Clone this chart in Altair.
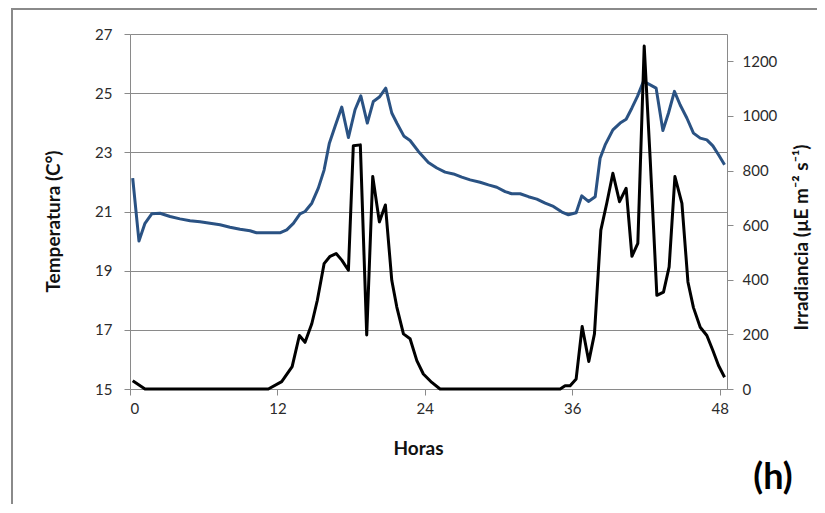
import altair as alt
import pandas as pd

# Temperature series (blue) - hours and °C
temp_hours = [0.22, 0.73, 1.22, 1.77, 2.44, 3.26, 4.07, 4.89, 5.70, 6.51, 7.33, 8.14, 8.96, 9.77,
              10.3, 11.0, 11.5, 12.2, 12.76, 13.3, 13.84, 14.25, 14.8, 15.33, 15.8, 16.23, 16.69,
              17.24, 17.78, 18.32, 18.79, 19.32, 19.81, 20.3, 20.82, 21.31, 21.72, 22.31, 22.8,
              23.48, 24.29, 24.98, 25.65, 26.33, 27.01, 27.69, 28.5, 29.18, 29.86, 30.54, 31.08,
              31.76, 32.44, 33.12, 33.8, 34.47, 35.16, 35.69, 36.32, 36.78, 37.32, 37.87, 38.27,
              38.68, 39.31, 39.9, 40.39, 40.86, 41.31, 41.8, 42.35, 42.83, 43.38, 43.84, 44.32,
              44.79, 45.33, 45.87, 46.42, 46.96, 47.45, 47.91, 48.4]
temp_values = [22.13, 20.0, 20.6, 20.92, 20.94, 20.83, 20.75, 20.69, 20.65, 20.6, 20.55, 20.47,
               20.4, 20.35, 20.28, 20.28, 20.28, 20.28, 20.38, 20.6, 20.92, 21.0, 21.28, 21.79,
               22.4, 23.31, 23.87, 24.53, 23.5, 24.44, 24.91, 23.99, 24.72, 24.87, 25.17, 24.33,
               23.99, 23.54, 23.4, 23.03, 22.66, 22.47, 22.33, 22.27, 22.16, 22.07, 21.99, 21.9,
               21.82, 21.67, 21.6, 21.6, 21.5, 21.42, 21.28, 21.17, 20.98, 20.89, 20.96, 21.53,
               21.34, 21.5, 22.8, 23.25, 23.76, 23.99, 24.12, 24.5, 24.89, 25.4, 25.28, 25.17,
               23.74, 24.33, 25.06, 24.6, 24.16, 23.65, 23.48, 23.42, 23.22, 22.92, 22.58]

# Irradiance series (black) - hours and µE m-2 s-1
irr_hours = [0.22, 1.22, 5.0, 11.26, 12.35, 13.2, 13.79, 14.25, 14.8, 15.25, 15.8, 16.29, 16.78,
             17.24, 17.78, 18.18, 18.75, 19.27, 19.76, 20.3, 20.79, 21.31, 21.72, 22.26, 22.8,
             23.35, 23.88, 24.57, 25.24, 30.0, 35.02, 35.42, 35.83, 36.32, 36.81, 37.35, 37.81,
             38.33, 38.82, 39.31, 39.85, 40.39, 40.86, 41.34, 41.86, 42.35, 42.89, 43.43, 43.89,
             44.36, 44.93, 45.42, 45.87, 46.42, 46.96, 47.45, 47.91, 48.4]
irr_values = [30, 0, 0, 0, 27, 82, 196, 171, 239, 325, 459, 486, 496, 472, 435, 891, 894, 198,
              778, 612, 674, 398, 300, 202, 184, 104, 55, 24, 0, 0, 0, 12, 12, 37, 229, 101, 202,
              582, 682, 790, 686, 735, 486, 533, 1256, 839, 343, 355, 447, 778, 680, 392, 298,
              226, 196, 141, 86, 43]

x_ticks = [0, 12, 24, 36, 48]
temp_ticks = [15, 17, 19, 21, 23, 25, 27]
irr_ticks = [0, 200, 400, 600, 800, 1000, 1200]

W, H = 597, 355
FONT = "Lato"
GRAY = "#8a8a8a"
LBL = "#2b2b2b"
TSIZE = 19

df_t = pd.DataFrame({"h": temp_hours, "t": temp_values})
df_i = pd.DataFrame({"h": irr_hours, "i": irr_values})
one = pd.DataFrame({"a": [0]})

x_axis = alt.Axis(values=x_ticks, title="Horas", grid=False, labelFont=FONT, labelFontSize=15,
                  labelColor=LBL, labelPadding=6, tickSize=6, tickColor=GRAY, domainColor=GRAY,
                  titleFont=FONT, titleFontSize=TSIZE, titleFontWeight="bold", titleColor="#111",
                  titleX=288, titleY=59, titleBaseline="middle", titleAlign="center")
x_scale = alt.Scale(domain=[0, 48.6], nice=False, zero=False)

temp = alt.Chart(df_t).mark_line(color="#2A5283", strokeWidth=3, strokeJoin="round").encode(
    x=alt.X("h:Q", scale=x_scale, axis=x_axis),
    y=alt.Y("t:Q", scale=alt.Scale(domain=[15, 27], nice=False, zero=False),
            axis=alt.Axis(values=temp_ticks, title="Temperatura (C°)", grid=True, gridColor=GRAY,
                          gridWidth=1, labelFont=FONT, labelFontSize=15, labelColor=LBL,
                          labelPadding=12, tickSize=6, tickColor=GRAY, domainColor=GRAY,
                          titleFont=FONT, titleFontSize=TSIZE, titleFontWeight="bold", titleColor="#111",
                          titleAngle=270, titleX=-77, titleY=187, titleBaseline="middle",
                          titleAlign="center")),
)

irr = alt.Chart(df_i).mark_line(color="#000000", strokeWidth=3, strokeJoin="round").encode(
    x=alt.X("h:Q", scale=x_scale, axis=x_axis),
    y=alt.Y("i:Q", scale=alt.Scale(domain=[0, 1300], nice=False),
            axis=alt.Axis(orient="right", values=irr_ticks, format="d",
                          title="Irradiancia (µE m⁻² s⁻¹)",
                          grid=False, labelFont=FONT, labelFontSize=15, labelColor=LBL,
                          labelPadding=9, tickSize=6, tickColor=GRAY, domainColor=GRAY,
                          titleFont=FONT, titleFontSize=TSIZE, titleFontWeight="bold", titleColor="#111",
                          titleAngle=270, titleX=74, titleY=203, titleBaseline="middle",
                          titleAlign="center")),
)

frame_left = alt.Chart(one).mark_rule(color=GRAY, strokeWidth=2).encode(
    x=alt.value(-118), y=alt.value(-25), y2=alt.value(H + 130))
frame_top = alt.Chart(one).mark_rule(color=GRAY, strokeWidth=2).encode(
    x=alt.value(-119), x2=alt.value(W + 100), y=alt.value(-25))
label_h = alt.Chart(one).mark_text(font=FONT, fontSize=36, fontWeight="bold", color="#000",
                                   align="center", baseline="middle").encode(
    x=alt.value(643), y=alt.value(444), text=alt.value("(h)"))

chart = alt.layer(frame_left, frame_top, label_h, temp, irr).resolve_scale(
    y="independent"
).properties(
    width=W, height=H,
    padding={"left": 122, "top": 26, "right": 90, "bottom": 115},
    autosize=alt.AutoSizeParams(type="none"),
).configure_view(stroke=None)

chart.save("out.html", embed_options={"renderer": "svg", "actions": False})
